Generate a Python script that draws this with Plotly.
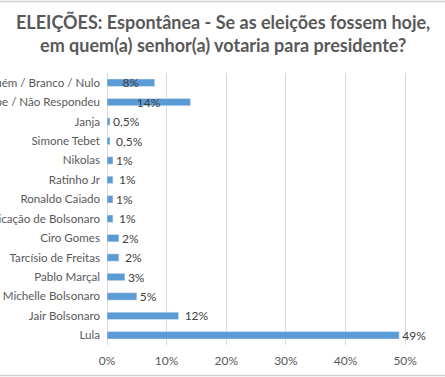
import plotly.graph_objects as go

categories = ["Ninguém / Branco / Nulo", "Não Sabe / Não Respondeu", "Janja", "Simone Tebet",
              "Nikolas", "Ratinho Jr", "Ronaldo Caiado", "Indicação de Bolsonaro", "Ciro Gomes",
              "Tarcísio de Freitas", "Pablo Marçal", "Michelle Bolsonaro", "Jair Bolsonaro", "Lula"]
values = [8, 14, 0.5, 0.5, 1, 1, 1, 1, 2, 2, 3, 5, 12, 49]
labels = ["8%", "14%", "0,5%", " 0,5%", "1%", " 1%", "1%", " 1%", "2%", " 2%", "3%", "5%", " 12%", "49%"]
positions = ["inside", "inside"] + ["outside"] * 12
x_ticks = [0, 10, 20, 30, 40, 50]
x_tick_text = ["0%", "10%", "20%", "30%", "40%", "50%"]
title_lines = ["ELEIÇÕES: Espontânea - Se as eleições fossem hoje,",
               "em quem(a) senhor(a) votaria para presidente?"]

W, H = 445, 377
L, R, T, B = 107, 10, 73, 32
ph = H - T - B
pw = W - L - R


def py(pix):
    """pixel-from-top -> paper y"""
    return (H - B - pix) / ph


fig = go.Figure(go.Bar(
    x=values, y=categories, orientation="h",
    marker=dict(color="#5B9BD5"), width=0.38,
    text=labels, textposition=positions, insidetextanchor="middle",
    constraintext="none",
    textfont=dict(color="#404040", size=12, family="Lato"),
    cliponaxis=False,
))

fig.update_layout(
    width=W, height=H,
    margin=dict(l=L, r=R, t=T, b=B),
    paper_bgcolor="white", plot_bgcolor="white",
    font=dict(family="Lato", color="#595959", size=12),
    showlegend=False,
)
fig.add_annotation(text="<b>" + title_lines[0] + "<br>" + title_lines[1] + "</b>",
                   xref="paper", yref="paper", x=(W / 2 - L) / pw, y=py(33.5),
                   xanchor="center", yanchor="middle", showarrow=False,
                   font=dict(size=18, color="#595959", family="Lato"))

fig.update_xaxes(range=[0, 55], tickvals=x_ticks, ticktext=x_tick_text,
                 showgrid=True, gridcolor="#D9D9D9", gridwidth=1, zeroline=True,
                 zerolinecolor="#D9D9D9", zerolinewidth=1, showline=False,
                 tickfont=dict(size=12, color="#595959"), automargin=False, ticks="",
                 ticklabelstandoff=7)
fig.update_yaxes(categoryorder="array", categoryarray=categories, autorange="reversed",
                 showgrid=False, showline=False, ticks="", ticklabelstandoff=6,
                 tickfont=dict(size=11.6, color="#595959"), automargin=False)

# frame lines top and bottom
for pix in (1.5, 375.5):
    fig.add_shape(type="line", xref="paper", yref="paper",
                  x0=-L / pw, x1=(W - L) / pw, y0=py(pix), y1=py(pix),
                  line=dict(color="#CFCFCF", width=1.5))

fig.write_html("out.html", config={"displayModeBar": False},
               post_script="document.body.style.margin='0px';document.body.style.overflow='hidden';")
